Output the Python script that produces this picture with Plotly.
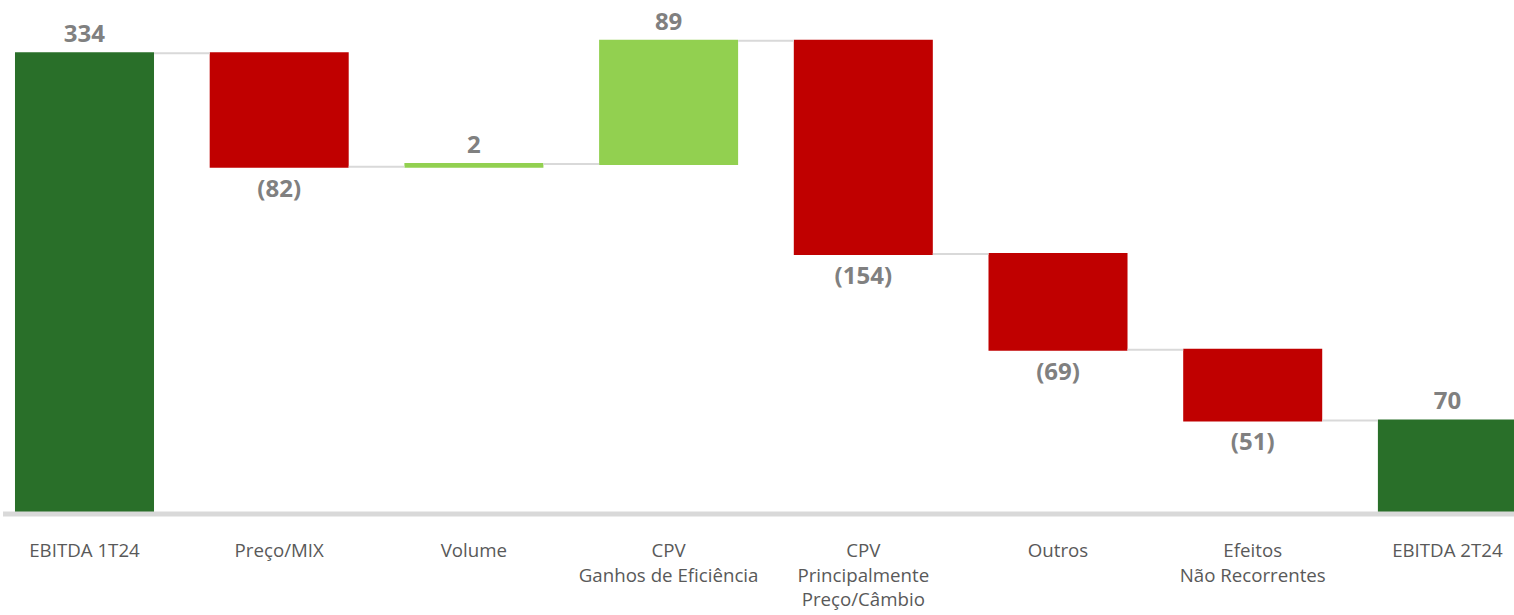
import plotly.graph_objects as go

categories = ["EBITDA 1T24", "Preço/MIX", "Volume", "CPV<br>Ganhos de Eficiência",
              "CPV<br>Principalmente<br>Preço/Câmbio", "Outros", "Efeitos<br>Não Recorrentes", "EBITDA 2T24"]
values = [334, -82, 2, 89, -154, -69, -51, 70]
measures = ["absolute", "relative", "relative", "relative", "relative", "relative", "relative", "total"]

labels = [f"({abs(v)})" if v < 0 else f"{v}" for v in values]

fig = go.Figure(go.Waterfall(
    x=list(range(len(categories))),
    y=values,
    measure=measures,
    text=labels,
    textposition="outside",
    textfont=dict(family="Open Sans", size=24, color="#808080", weight="bold"),
    cliponaxis=False,
    width=0.714,
    increasing=dict(marker=dict(color="#92D050", line=dict(width=0))),
    decreasing=dict(marker=dict(color="#C00000", line=dict(width=0))),
    totals=dict(marker=dict(color="#296F29", line=dict(width=0))),
    connector=dict(mode="between", line=dict(color="#D9D9D9", width=2)),
    hoverinfo="skip",
))

fig.add_shape(type="line", xref="paper", yref="paper", x0=0.002, x1=1, y0=0.004, y1=0.004,
              line=dict(color="#D9D9D9", width=5), layer="above")

fig.update_layout(
    width=1514, height=615,
    margin=dict(l=0, r=0, t=0, b=99),
    plot_bgcolor="white", paper_bgcolor="white",
    showlegend=False,
    xaxis=dict(
        range=[-0.434, 7.342],
        tickmode="array",
        tickvals=list(range(len(categories))),
        ticktext=categories,
        tickfont=dict(family="Open Sans", size=18.7, color="#595959"),
        showgrid=False, zeroline=False, showline=False,
        ticks="outside", ticklen=18, tickcolor="rgba(0,0,0,0)",
    ),
    yaxis=dict(range=[0, 372.4], visible=False, showgrid=False, zeroline=False),
)

fig.write_html("out.html", config={"displayModeBar": False},
               post_script="document.documentElement.style.margin='0';document.body.style.margin='0';document.body.style.overflow='hidden';")
